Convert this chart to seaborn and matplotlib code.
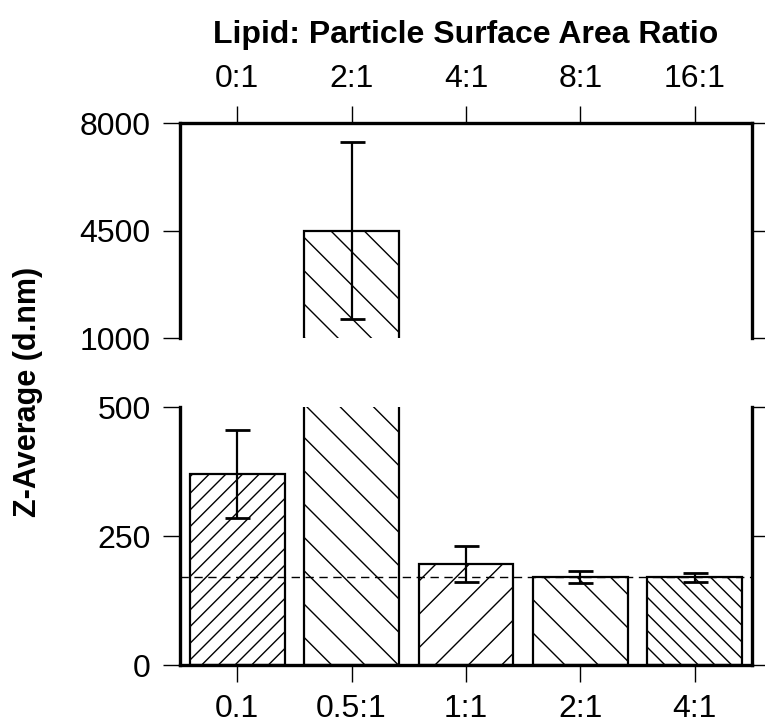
import matplotlib
matplotlib.use("Agg")
import matplotlib.pyplot as plt
import seaborn as sns
import numpy as np
import pandas as pd

# values
bottom_labels = ["0.1", "0.5:1", "1:1", "2:1", "4:1"]
top_labels = ["0:1", "2:1", "4:1", "8:1", "16:1"]
z_average = [370, 4500, 196, 170, 170]
z_error = [86, 2880, 35, 12, 9]
hatches = ["//", "\\", "/", "\\", "\\\\"]
dashed_level = 170

sns.set_theme(style="ticks")
plt.rcParams["font.family"] = ["Liberation Sans", "DejaVu Sans"]
plt.rcParams["text.color"] = "black"
plt.rcParams["axes.labelcolor"] = "black"
plt.rcParams["hatch.linewidth"] = 1.0
plt.rcParams["hatch.color"] = "black"

df = pd.DataFrame({"ratio": bottom_labels, "z": z_average, "err": z_error})

fig = plt.figure(figsize=(7.65, 7.28), dpi=100)
ax_top = fig.add_axes([0.2353, 0.5357, 0.7477, 0.2953])
ax_bot = fig.add_axes([0.2353, 0.0865, 0.7477, 0.3544])

for ax in (ax_top, ax_bot):
    sns.barplot(data=df, x="ratio", y="z", ax=ax, color="white", saturation=1,
                edgecolor="black", linewidth=1.6, width=0.83, errorbar=None)
    for patch, h in zip(ax.patches, hatches):
        patch.set_hatch(h)
    ax.errorbar(np.arange(len(z_average)), z_average, yerr=z_error, fmt="none",
                ecolor="black", elinewidth=1.6, capsize=9, capthick=2)
    ax.set_xlim(-0.5, 4.5)
    ax.set_xlabel("")
    ax.set_ylabel("")
    for s in ax.spines.values():
        s.set_linewidth(2.4)
        s.set_color("black")
    ax.tick_params(axis="both", length=12, width=1, pad=9, labelsize=23,
                   color="black", labelcolor="black")
    ax.tick_params(axis="y", left=True, right=True, labelleft=True, labelright=False)

# upper panel (broken part of the axis)
ax_top.set_ylim(1000, 8000)
ax_top.set_yticks([1000, 4500, 8000])
ax_top.spines["bottom"].set_visible(False)
ax_top.set_xticks(range(len(top_labels)))
ax_top.set_xticklabels(top_labels)
ax_top.tick_params(axis="x", bottom=False, labelbottom=False, top=True, labeltop=True)
ax_top.xaxis.set_label_position("top")
ax_top.set_xlabel("Lipid: Particle Surface Area Ratio", fontsize=23,
                  fontweight="bold", labelpad=15, color="black")

# lower panel
ax_bot.set_ylim(0, 500)
ax_bot.set_yticks([0, 250, 500])
ax_bot.spines["top"].set_visible(False)
ax_bot.set_xticks(range(len(bottom_labels)))
ax_bot.set_xticklabels(bottom_labels)
ax_bot.axhline(dashed_level, color="black", linewidth=1, linestyle=(0, (6, 4)))

fig.text(28 / 765, 1 - 392 / 728, "Z-Average (d.nm)", rotation=90, fontsize=22,
         fontweight="bold", ha="center", va="center", color="black")

fig.savefig("out.png", dpi=100)
